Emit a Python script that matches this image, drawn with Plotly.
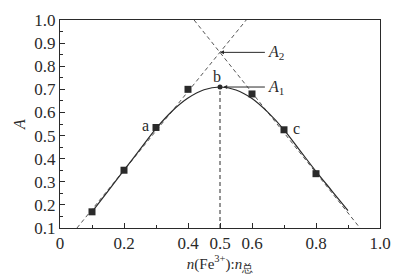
import plotly.graph_objects as go

# measured points
pts_x = [0.1, 0.2, 0.3, 0.4, 0.6, 0.7, 0.8]
pts_y = [0.17, 0.35, 0.535, 0.70, 0.68, 0.525, 0.335]
peak_x = [0.5]
peak_y = [0.71]

# smooth fitted curve
curve_x = [0.1, 0.15, 0.2, 0.25, 0.3, 0.35, 0.4, 0.45, 0.5, 0.55, 0.6, 0.65, 0.7, 0.75, 0.8, 0.85, 0.9]
curve_y = [0.17, 0.26, 0.35, 0.44, 0.53, 0.605, 0.662, 0.698, 0.71, 0.697, 0.66, 0.60, 0.525, 0.435, 0.345, 0.26, 0.175]

# tangent lines (dashed)
left_x = [0.053, 0.582]
left_y = [0.1, 1.0]
right_x = [0.419, 0.9375]
right_y = [1.0, 0.1]
vert_x = [0.5, 0.5]
vert_y = [0.1, 0.71]
cross = (0.5, 0.86)

x_ticks = [0, 0.2, 0.4, 0.5, 0.6, 0.8, 1.0]
x_ticklabels = ["0", "0.2", "0.4", "0.5", "0.6", "0.8", "1.0"]
y_ticks = [0.1, 0.2, 0.3, 0.4, 0.5, 0.6, 0.7, 0.8, 0.9, 1.0]
y_ticklabels = ["0.1", "0.2", "0.3", "0.4", "0.5", "0.6", "0.7", "0.8", "0.9", "1.0"]

ink = "#2a2a2a"
font = "Liberation Serif"

fig = go.Figure()
dash = dict(color="#555", width=1, dash="4px,3px")
fig.add_trace(go.Scatter(x=left_x, y=left_y, mode="lines", line=dash, showlegend=False))
fig.add_trace(go.Scatter(x=right_x, y=right_y, mode="lines", line=dash, showlegend=False))
fig.add_trace(go.Scatter(x=vert_x, y=vert_y, mode="lines", line=dict(color=ink, width=1, dash="4px,3px"), showlegend=False))
fig.add_trace(go.Scatter(x=curve_x, y=curve_y, mode="lines", line=dict(color=ink, width=1.2, shape="spline"), showlegend=False))
fig.add_trace(go.Scatter(x=pts_x, y=pts_y, mode="markers",
                         marker=dict(symbol="square", size=7, color=ink), showlegend=False))
fig.add_trace(go.Scatter(x=peak_x, y=peak_y, mode="markers",
                         marker=dict(symbol="circle", size=5, color=ink), showlegend=False))

tf = dict(family=font, size=16, color=ink)
fig.add_annotation(x=cross[0], y=cross[1], ax=0.645, ay=cross[1], axref="x", ayref="y",
                   text="", showarrow=True, arrowhead=2, arrowsize=0.8, arrowwidth=1, arrowcolor=ink)
fig.add_annotation(x=0.645, y=cross[1], text="<i>A</i><sub>2</sub>", showarrow=False,
                   xanchor="left", font=tf)
fig.add_annotation(x=peak_x[0] + 0.01, y=peak_y[0], ax=0.645, ay=peak_y[0], axref="x", ayref="y",
                   text="", showarrow=True, arrowhead=2, arrowsize=0.8, arrowwidth=1, arrowcolor=ink)
fig.add_annotation(x=0.645, y=peak_y[0], text="<i>A</i><sub>1</sub>", showarrow=False,
                   xanchor="left", font=tf)
fig.add_annotation(x=0.49, y=0.755, text="b", showarrow=False, font=tf)
fig.add_annotation(x=0.266, y=0.545, text="a", showarrow=False, font=tf)
fig.add_annotation(x=0.74, y=0.53, text="c", showarrow=False, font=tf)

tickfont = dict(family=font, size=17, color=ink)
fig.update_layout(
    width=404, height=277, margin=dict(l=60, r=24, t=11, b=48),
    paper_bgcolor="white", plot_bgcolor="white",
    font=dict(family=font, size=17, color=ink),
    xaxis=dict(range=[0, 1.0], tickmode="array", tickvals=x_ticks, ticktext=x_ticklabels,
               tickfont=tickfont, showline=True, linecolor=ink, linewidth=1, mirror=True,
               ticks="inside", ticklen=5, tickcolor=ink, showgrid=False, zeroline=False,
               minor=dict(tickmode="array", tickvals=[0.1, 0.3, 0.7, 0.9], ticks="inside", ticklen=3, tickcolor=ink),
               title=dict(text="<i>n</i>(Fe<sup>3+</sup>):<i>n</i><sub>总</sub>",
                          font=dict(family=font, size=15, color=ink), standoff=2)),
    yaxis=dict(range=[0.1, 1.0], tickmode="array", tickvals=y_ticks, ticktext=y_ticklabels,
               tickfont=tickfont, showline=True, linecolor=ink, linewidth=1, mirror=True,
               ticks="inside", ticklen=5, tickcolor=ink, showgrid=False, zeroline=False,
               minor=dict(dtick=0.05, tick0=0.1, ticks="inside", ticklen=3, tickcolor=ink),
               title=dict(text="<i>A</i>", font=dict(family=font, size=16, color=ink), standoff=4)),
)
fig.write_html("out.html")
